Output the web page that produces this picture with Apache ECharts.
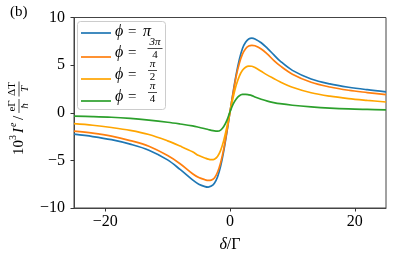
<!DOCTYPE html>
<html>
<head>
<meta charset="utf-8">
<script src="https://cdn.jsdelivr.net/npm/echarts@6/dist/echarts.min.js"></script>
<style>
html,body{margin:0;padding:0;background:#fff;}
#c{width:415px;height:258px;}
</style>
</head>
<body>
<div id="c"></div>
<script>
// ---- data ----
const delta = [-25,-22,-19,-16,-13,-10,-8,-6,-5,-4,-3.5,-3,-2.5,-2,-1.5,-1,-0.5,0,0.5,1,1.5,2,2.5,3,3.5,4,5,6,7,8,10,13,16,19,22,25];
const phiPi = [-2.25,-2.5,-2.83,-3.3,-3.93,-4.95,-5.95,-7.05,-7.5,-7.75,-7.8,-7.7,-7.4,-6.75,-5.6,-4.0,-2.05,0.1,2.15,4.05,5.6,6.75,7.4,7.75,7.84,7.75,7.35,6.75,6.1,5.45,4.45,3.55,3.03,2.68,2.42,2.2];
const phi3Pi4 = [-1.93,-2.14,-2.45,-2.92,-3.52,-4.5,-5.35,-6.4,-6.8,-7.03,-7.1,-7.07,-6.85,-6.25,-5.25,-3.8,-1.95,0.1,2.05,3.85,5.2,6.15,6.72,7.0,7.08,7.03,6.7,6.15,5.5,4.95,4.05,3.2,2.7,2.36,2.12,1.9];
const phiPi2 = [-1.14,-1.31,-1.55,-1.85,-2.28,-2.95,-3.5,-4.1,-4.5,-4.75,-4.87,-4.93,-4.88,-4.6,-3.95,-2.9,-1.5,0.1,1.6,2.9,3.85,4.45,4.78,4.9,4.88,4.75,4.35,3.95,3.6,3.25,2.68,2.1,1.74,1.49,1.3,1.13];
const phiPi4 = [-0.36,-0.4,-0.47,-0.6,-0.78,-1.0,-1.18,-1.38,-1.52,-1.68,-1.76,-1.85,-1.91,-1.93,-1.82,-1.45,-0.8,0.1,0.9,1.45,1.78,1.92,1.93,1.88,1.8,1.65,1.42,1.22,1.07,0.95,0.79,0.62,0.49,0.4,0.35,0.31];
const xTicks = [-20, 0, 20];
const yTicks = [-10, -5, 0, 5, 10];
const seriesNames = ['ϕ = π', 'ϕ = 3π/4', 'ϕ = π/2', 'ϕ = π/4'];
const colors = ['#1f77b4', '#ff7f0e', '#ffa500', '#2ca02c'];

const serif = "'Liberation Serif', 'DejaVu Serif', serif";
const fmtMinus = v => String(v).replace('-', '\u2212');

const chart = echarts.init(document.getElementById('c'), null, {renderer: 'canvas'});

const allSeries = [phiPi, phi3Pi4, phiPi2, phiPi4].map((vals, i) => ({
  name: seriesNames[i],
  type: 'line',
  data: delta.map((d, k) => [d, vals[k]]),
  showSymbol: false,
  smooth: 0.35,
  lineStyle: {width: 1.7, color: colors[i]},
  itemStyle: {color: colors[i]},
  z: 2 + i,
  animation: false
}));

// legend built from graphic elements
const legendRows = [33, 57, 79, 101];
const legendFrac = [null, ['3π', '4'], ['π', '2'], ['π', '4']];
const legendChildren = [{
  type: 'rect', shape: {x: 77.5, y: 21.5, width: 88, height: 88, r: 3},
  style: {fill: 'rgba(255,255,255,0.85)', stroke: '#cccccc', lineWidth: 1}
}];
legendRows.forEach((yy, i) => {
  legendChildren.push({type: 'line', shape: {x1: 81, y1: yy, x2: 111, y2: yy},
    style: {stroke: colors[i], lineWidth: 1.7}});
  const ty = legendFrac[i] ? yy - 4 : yy - 1;
  legendChildren.push({type: 'text', x: 115, y: ty,
    style: {text: 'ϕ', font: 'italic 16px ' + serif, fill: '#000', verticalAlign: 'middle'}});
  legendChildren.push({type: 'text', x: 128, y: ty,
    style: {text: '=', font: '15px ' + serif, fill: '#000', verticalAlign: 'middle'}});
  if (!legendFrac[i]) {
    legendChildren.push({type: 'text', x: 143, y: ty,
      style: {text: 'π', font: 'italic 16px ' + serif, fill: '#000', verticalAlign: 'middle'}});
  } else {
    const cx = legendFrac[i][0].length > 1 ? 155 : 152.5;
    const half = legendFrac[i][0].length > 1 ? 7.5 : 4.5;
    const by = yy - 8.5;
    legendChildren.push({type: 'text', x: cx, y: by - 0.5,
      style: {text: legendFrac[i][0], font: 'italic 11px ' + serif, fill: '#000', align: 'center', verticalAlign: 'bottom'}});
    legendChildren.push({type: 'line', shape: {x1: cx - half, y1: by, x2: cx + half, y2: by},
      style: {stroke: '#000', lineWidth: 0.7}});
    legendChildren.push({type: 'text', x: cx, y: by + 1,
      style: {text: legendFrac[i][1], font: '11px ' + serif, fill: '#000', align: 'center', verticalAlign: 'top'}});
  }
});

// rotated y-axis label: 10^3 I^e / (eΓ/ħ)(ΔT/T)
const yl = [];
yl.push({type: 'text', x: 0, y: 0, style: {text: '10', font: '15px ' + serif, fill: '#000', verticalAlign: 'middle'}});
yl.push({type: 'text', x: 15, y: -6, style: {text: '3', font: '10px ' + serif, fill: '#000', verticalAlign: 'middle'}});
yl.push({type: 'text', x: 22, y: 0, style: {text: 'I', font: 'italic 15px ' + serif, fill: '#000', verticalAlign: 'middle'}});
yl.push({type: 'text', x: 28, y: -6, style: {text: 'e', font: 'italic 10px ' + serif, fill: '#000', verticalAlign: 'middle'}});
yl.push({type: 'text', x: 35, y: 0, style: {text: '/', font: '15px ' + serif, fill: '#000', verticalAlign: 'middle'}});
function frac(cx, num, den, half) {
  yl.push({type: 'text', x: cx, y: -1, style: {text: num, font: '11px ' + serif, fill: '#000', align: 'center', verticalAlign: 'bottom'}});
  yl.push({type: 'line', shape: {x1: cx - half, y1: 0, x2: cx + half, y2: 0}, style: {stroke: '#000', lineWidth: 0.7}});
  yl.push({type: 'text', x: cx, y: 1, style: {text: den, font: 'italic 11px ' + serif, fill: '#000', align: 'center', verticalAlign: 'top'}});
}
frac(49, 'eΓ', 'ħ', 7);
frac(66, 'ΔT', 'T', 7.5);

const option = {
  backgroundColor: '#fff',
  animation: false,
  grid: {left: 74, right: 29, top: 17.5, bottom: 47.5, show: true, borderColor: '#444', borderWidth: 1, backgroundColor: 'transparent'},
  xAxis: {
    type: 'value', min: -25, max: 25,
    axisLine: {show: true, onZero: false, lineStyle: {color: '#444', width: 1}},
    axisTick: {show: true, inside: false, length: 3.5, lineStyle: {color: '#333'}, customValues: xTicks},
    axisLabel: {customValues: xTicks, formatter: fmtMinus, color: '#000', fontFamily: serif, fontSize: 16, margin: 6},
    splitLine: {show: false},
    name: '{i|δ}{n|/Γ}', nameLocation: 'middle', nameGap: 29,
    nameTextStyle: {rich: {i: {fontFamily: serif, fontStyle: 'italic', fontSize: 16, color: '#000'}, n: {fontFamily: serif, fontSize: 16, color: '#000'}}}
  },
  yAxis: {
    type: 'value', min: -10, max: 10, interval: 5,
    axisLine: {show: true, onZero: false, lineStyle: {color: '#444', width: 1}},
    axisTick: {show: true, inside: false, length: 3.5, lineStyle: {color: '#333'}},
    axisLabel: {formatter: fmtMinus, color: '#000', fontFamily: serif, fontSize: 16, margin: 9},
    splitLine: {show: false}
  },
  series: allSeries,
  graphic: [
    {type: 'text', x: 10, y: 5, style: {text: '(b)', font: '15px ' + serif, fill: '#000'}},
    {type: 'group', x: 19, y: 155, rotation: Math.PI / 2, children: yl},
    {type: 'group', children: legendChildren, z: 100}
  ]
};
chart.setOption(option);
</script>
</body>
</html>
